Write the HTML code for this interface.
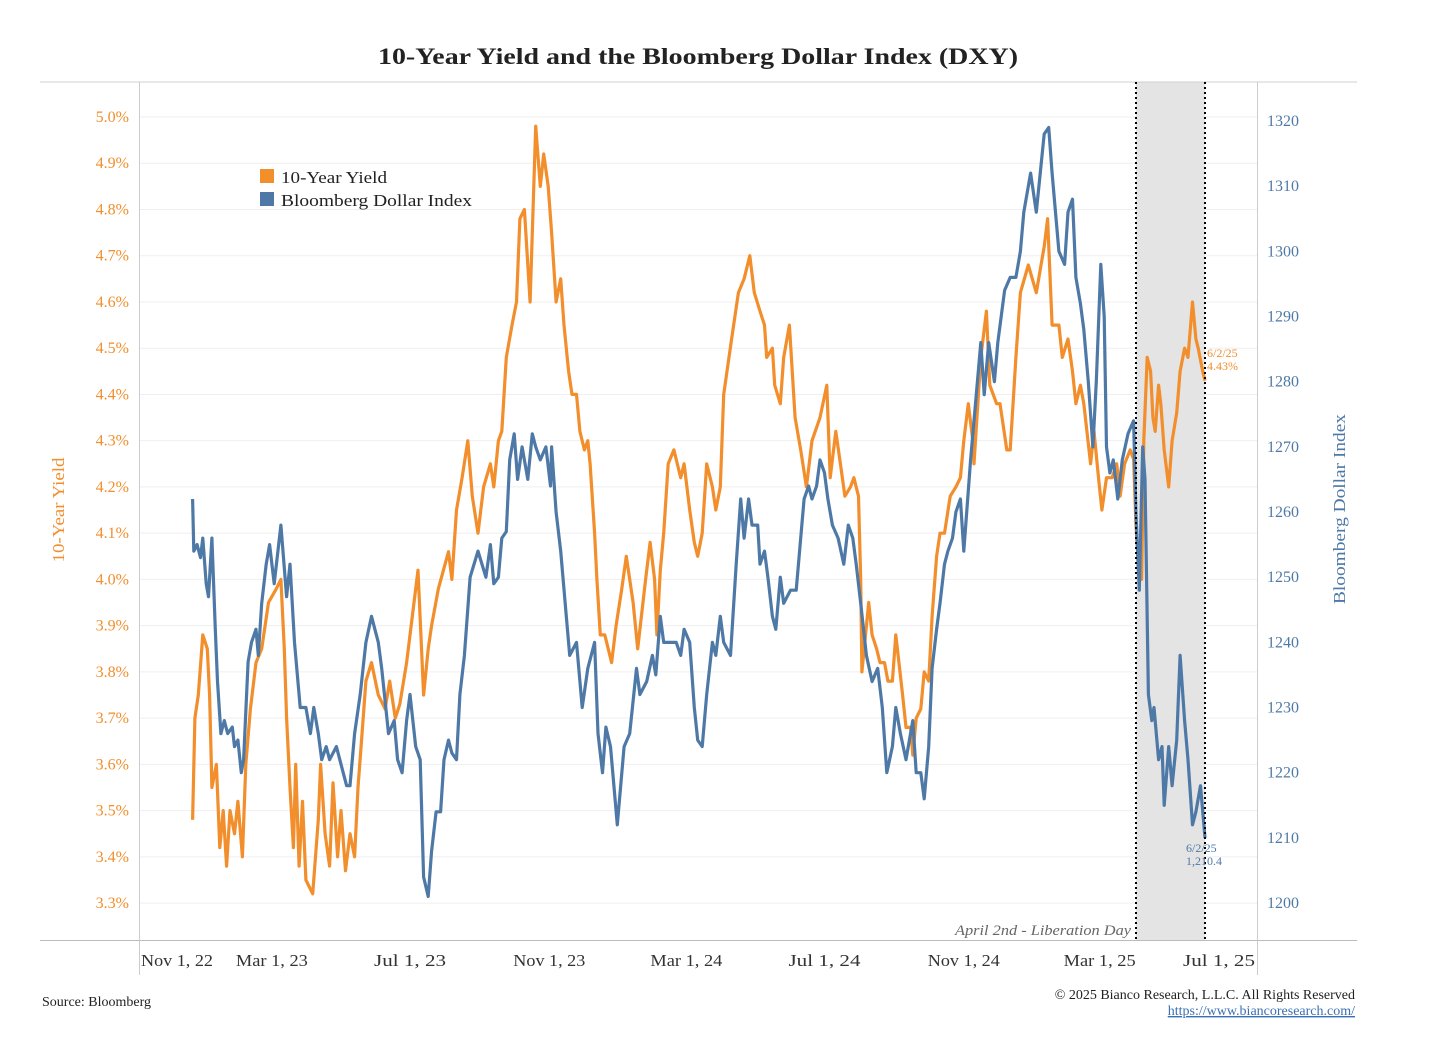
<!DOCTYPE html>
<html><head><meta charset="utf-8">
<style>
html,body{margin:0;padding:0;background:#fff;}
body{width:1456px;height:1034px;overflow:hidden;font-family:"Liberation Serif",serif;}
svg text{font-family:"Liberation Serif",serif;}
</style></head>
<body>
<svg id="chart" width="1456" height="1034" viewBox="0 0 1456 1034" xmlns="http://www.w3.org/2000/svg">
<text x="698" y="64" text-anchor="middle" font-size="23" font-weight="bold" fill="#222" textLength="640" lengthAdjust="spacingAndGlyphs">10-Year Yield and the Bloomberg Dollar Index (DXY)</text>
<g id="grid"></g>
<rect x="1136" y="82" width="69" height="858" fill="#e4e4e4"/>
<line x1="40" y1="82" x2="1357" y2="82" stroke="#d0d0d0" stroke-width="1"/>
<line x1="40" y1="940.5" x2="1357" y2="940.5" stroke="#bbb" stroke-width="1"/>
<line x1="139.5" y1="82" x2="139.5" y2="975" stroke="#ccc" stroke-width="1"/>
<line x1="1257.5" y1="82" x2="1257.5" y2="975" stroke="#ccc" stroke-width="1"/>
<g id="series"></g>
<line x1="1136" y1="82" x2="1136" y2="940" stroke="#000" stroke-width="2" stroke-dasharray="2,3"/>
<line x1="1205" y1="82" x2="1205" y2="940" stroke="#000" stroke-width="2" stroke-dasharray="2,3"/>
<text x="1131" y="935" text-anchor="end" font-size="15" font-style="italic" fill="#666" textLength="176" lengthAdjust="spacingAndGlyphs">April 2nd - Liberation Day</text>
<text x="1207" y="357" font-size="12" fill="#f28e2b">6/2/25</text>
<text x="1207" y="370" font-size="12" fill="#f28e2b">4.43%</text>
<text x="1186" y="852" font-size="12" fill="#4e79a7">6/2/25</text>
<text x="1186" y="865" font-size="12" fill="#4e79a7">1,210.4</text>
<g id="yticksL"></g>
<g id="yticksR"></g>
<g id="xticks"></g>
<text transform="translate(64,510) rotate(-90)" text-anchor="middle" font-size="17" fill="#f28e2b" textLength="105" lengthAdjust="spacingAndGlyphs">10-Year Yield</text>
<text transform="translate(1345,509) rotate(-90)" text-anchor="middle" font-size="17" fill="#4e79a7" textLength="190" lengthAdjust="spacingAndGlyphs">Bloomberg Dollar Index</text>
<g>
<rect x="260" y="169" width="14" height="14" fill="#f28e2b"/>
<text x="281" y="183" font-size="17" fill="#222" textLength="106" lengthAdjust="spacingAndGlyphs">10-Year Yield</text>
<rect x="260" y="192" width="14" height="14" fill="#4e79a7"/>
<text x="281" y="206" font-size="17" fill="#222" textLength="191" lengthAdjust="spacingAndGlyphs">Bloomberg Dollar Index</text>
</g>
<text x="42" y="1006" font-size="14" fill="#222">Source: Bloomberg</text>
<text x="1355" y="999" text-anchor="end" font-size="14" fill="#222">© 2025 Bianco Research, L.L.C. All Rights Reserved</text>
<text x="1355" y="1015" text-anchor="end" font-size="14" fill="#3b6fb5" text-decoration="underline">https://www.biancoresearch.com/</text>
</svg>
<script>
// days since Nov 1, 2022
const yieldDays=[50,52,55,59,63,65,67,71,74,77,80,83,87,90,94,97,101,106,111,117,124,128,131,133,136,139,141,144,147,150,156,161,163,167,171,174,178,181,185,189,193,196,200,203,208,214,220,224,229,233,239,244,249,254,258,261,267,276,279,283,288,293,297,302,307,313,316,320,323,327,332,336,339,343,348,353,357,360,364,367,371,375,378,382,385,389,392,396,399,401,405,407,410,414,420,424,429,433,436,439,443,450,454,458,460,463,466,470,475,481,484,489,493,496,500,504,509,512,516,519,526,532,537,542,546,551,555,557,562,564,569,572,577,582,587,592,597,604,610,613,618,622,626,631,634,638,640,641,647,650,654,657,661,664,668,671,677,680,684,686,689,693,696,700,703,707,710,714,719,724,728,731,735,739,740,746,751,754,760,763,769,772,777,781,788,795,802,805,809,815,818,823,827,830,834,837,843,846,850,853,857,862,866,869,873,878,881,883,886,888,890,893,896,898,900,903,905,908,912,915,919,922,926,929,933,936,938,942,944];
const yieldVals=[3.48,3.7,3.75,3.88,3.85,3.75,3.55,3.6,3.42,3.5,3.38,3.5,3.45,3.52,3.40,3.6,3.72,3.82,3.85,3.95,3.98,4.0,3.85,3.7,3.55,3.42,3.6,3.38,3.52,3.35,3.32,3.48,3.6,3.45,3.38,3.56,3.4,3.5,3.37,3.45,3.4,3.55,3.68,3.78,3.82,3.75,3.72,3.78,3.70,3.73,3.82,3.92,4.02,3.75,3.85,3.9,3.98,4.06,4.0,4.15,4.22,4.3,4.18,4.1,4.2,4.25,4.2,4.3,4.32,4.48,4.55,4.6,4.78,4.8,4.6,4.98,4.85,4.92,4.85,4.75,4.6,4.65,4.55,4.45,4.4,4.4,4.32,4.28,4.3,4.25,4.1,4.0,3.88,3.88,3.82,3.90,3.98,4.05,4.0,3.95,3.85,4.0,4.08,4.0,3.88,4.02,4.1,4.25,4.28,4.22,4.25,4.15,4.08,4.05,4.1,4.25,4.2,4.15,4.2,4.4,4.52,4.62,4.65,4.7,4.62,4.58,4.55,4.48,4.5,4.42,4.38,4.48,4.55,4.35,4.28,4.2,4.3,4.35,4.42,4.22,4.32,4.25,4.18,4.2,4.22,4.18,4.0,3.8,3.95,3.88,3.85,3.82,3.82,3.78,3.78,3.88,3.75,3.68,3.68,3.62,3.70,3.72,3.80,3.78,3.92,4.05,4.10,4.1,4.18,4.20,4.22,4.3,4.38,4.3,4.25,4.48,4.58,4.42,4.38,4.38,4.28,4.28,4.48,4.62,4.68,4.62,4.72,4.78,4.55,4.55,4.48,4.52,4.45,4.38,4.42,4.38,4.25,4.32,4.22,4.15,4.22,4.22,4.25,4.18,4.25,4.28,4.26,4.12,4.0,4.0,4.3,4.48,4.45,4.35,4.32,4.42,4.38,4.28,4.2,4.3,4.36,4.45,4.5,4.48,4.6,4.52,4.5,4.45,4.43];
const dxyDays=[50,51,54,57,59,62,64,67,70,72,75,78,81,85,87,90,93,95,99,102,106,108,111,115,118,122,128,133,136,140,145,150,154,157,161,164,168,171,177,180,186,189,193,198,203,208,214,217,223,228,231,235,239,242,247,251,254,258,261,265,269,272,276,279,283,286,290,295,302,309,313,316,320,323,327,330,334,337,341,346,350,353,357,362,366,367,371,375,380,383,389,394,399,405,408,412,415,419,422,425,428,431,436,442,445,451,456,459,463,466,472,477,481,484,489,493,496,500,504,509,512,516,519,525,530,534,537,541,544,548,549,551,555,558,562,565,569,572,578,583,587,590,594,597,601,604,608,611,615,620,625,629,633,636,640,645,650,655,659,663,668,671,675,680,686,689,693,696,700,703,707,710,714,717,721,724,728,731,737,740,746,749,753,758,761,767,772,777,781,784,790,795,802,806,809,815,820,823,827,830,834,837,841,845,848,852,855,857,860,863,867,871,876,881,883,886,889,891,894,897,899,903,906,908,912,915,919,922,926,929,933,936,940,944];
const dxyVals=[1262,1254,1255,1253,1256,1249,1247,1256,1242,1234,1226,1228,1226,1227,1224,1225,1220,1222,1237,1240,1242,1238,1246,1252,1255,1249,1258,1247,1252,1240,1230,1230,1226,1230,1226,1222,1224,1222,1224,1222,1218,1218,1226,1232,1240,1244,1240,1236,1226,1228,1222,1220,1228,1232,1224,1222,1204,1201,1208,1214,1214,1222,1225,1223,1222,1232,1238,1250,1254,1250,1255,1249,1250,1256,1257,1268,1272,1265,1270,1265,1272,1270,1268,1270,1264,1270,1260,1254,1244,1238,1240,1230,1236,1240,1226,1220,1227,1224,1218,1212,1218,1224,1226,1236,1232,1234,1238,1235,1244,1240,1240,1240,1238,1242,1240,1230,1225,1224,1232,1240,1238,1244,1240,1238,1252,1262,1256,1262,1258,1258,1258,1252,1254,1250,1244,1242,1250,1246,1248,1248,1256,1262,1264,1262,1264,1268,1266,1262,1258,1256,1252,1258,1256,1252,1246,1238,1234,1236,1230,1220,1224,1230,1226,1222,1228,1220,1220,1216,1224,1236,1242,1246,1252,1254,1256,1260,1262,1254,1268,1274,1286,1278,1286,1280,1286,1294,1296,1296,1300,1306,1312,1306,1318,1319,1312,1300,1298,1306,1308,1296,1292,1288,1280,1270,1280,1298,1290,1270,1266,1268,1262,1268,1272,1274,1260,1248,1270,1265,1232,1228,1230,1222,1224,1215,1224,1218,1225,1238,1228,1222,1212,1214,1218,1210];
const yieldTicks=[3.3,3.4,3.5,3.6,3.7,3.8,3.9,4.0,4.1,4.2,4.3,4.4,4.5,4.6,4.7,4.8,4.9,5.0];
const dxyTicks=[1200,1210,1220,1230,1240,1250,1260,1270,1280,1290,1300,1310,1320];
const xTickLabels=["Nov 1, 22","Mar 1, 23","Jul 1, 23","Nov 1, 23","Mar 1, 24","Jul 1, 24","Nov 1, 24","Mar 1, 25","Jul 1, 25"];
const xTickDays=[0,120,242,365,486,608,731,851,973];

const NS="http://www.w3.org/2000/svg";
const xs=d=>136+d*1.1324;
const yL=v=>117+(5.0-v)*462.4;
const yR=v=>121+(1320-v)*6.517;
function mk(tag,attrs,parent){const e=document.createElementNS(NS,tag);for(const k in attrs)e.setAttribute(k,attrs[k]);parent.appendChild(e);return e;}
const grid=document.getElementById('grid');
yieldTicks.forEach(t=>{
  const l=mk('line',{x1:140,x2:1257,y1:yL(t),y2:yL(t),stroke:'#efefef','stroke-width':1},grid);
  
  
});
const gL=document.getElementById('yticksL');
yieldTicks.forEach(t=>{
  const e=mk('text',{x:129,y:yL(t)+5,'text-anchor':'end','font-size':16,fill:'#f28e2b'},gL);
  e.textContent=t.toFixed(1)+'%';
  
  
});
const gR=document.getElementById('yticksR');
dxyTicks.forEach(t=>{
  const e=mk('text',{x:1267,y:yR(t)+5,'font-size':16,fill:'#4e79a7'},gR);
  e.textContent=t;
  
  
});
const gX=document.getElementById('xticks');
xTickLabels.forEach((t,i)=>{
  let x=xs(xTickDays[i]);
  let anchor='middle';
  if(i===0){x=141;anchor='start';}
  if(i===xTickLabels.length-1){x=1255;anchor='end';}
  const e=mk('text',{x:x,y:966,'text-anchor':anchor,'font-size':17,fill:'#333',textLength:72,lengthAdjust:'spacingAndGlyphs'},gX);
  e.textContent=t;
  
  
});
const gs=document.getElementById('series');
const pY=mk('path',{d:yieldDays.map((d,i)=>(i?'L':'M')+xs(d).toFixed(1)+' '+yL(yieldVals[i]).toFixed(1)).join(''),fill:'none',stroke:'#f28e2b','stroke-width':3.2,'stroke-linejoin':'round'},gs);


const pD=mk('path',{d:dxyDays.map((d,i)=>(i?'L':'M')+xs(d).toFixed(1)+' '+yR(dxyVals[i]).toFixed(1)).join(''),fill:'none',stroke:'#4e79a7','stroke-width':3.2,'stroke-linejoin':'round'},gs);


</script>
</body></html>
